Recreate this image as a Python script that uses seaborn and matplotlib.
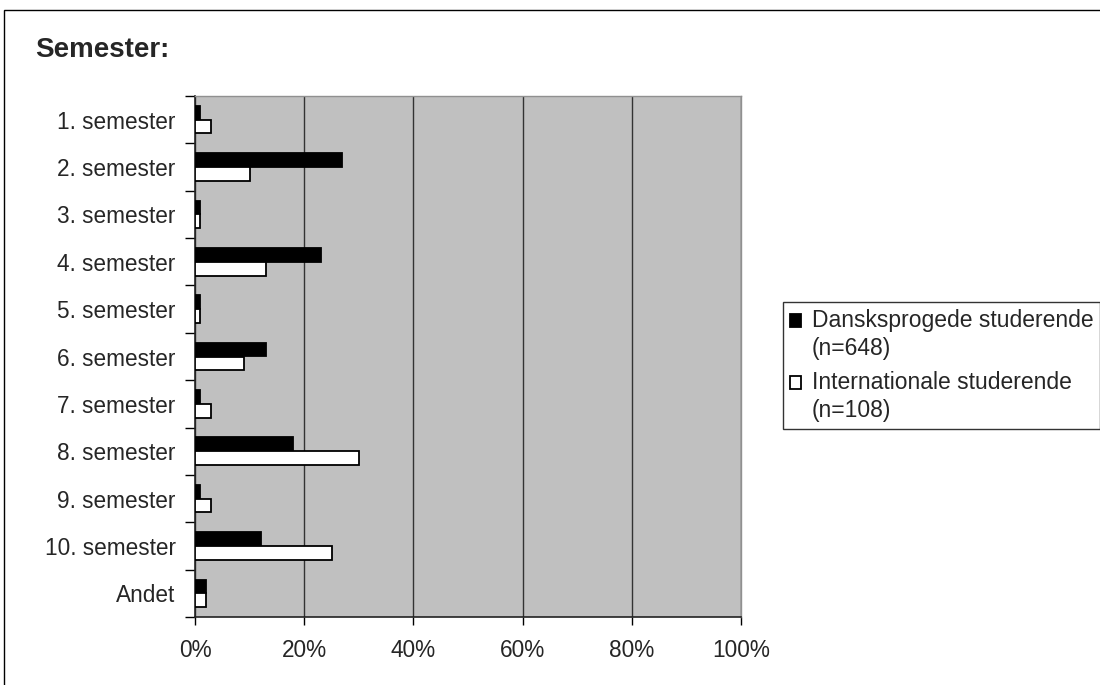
import pandas as pd
import seaborn as sns
import matplotlib.pyplot as plt
from matplotlib.patches import Rectangle
from matplotlib.ticker import FixedLocator
from matplotlib.legend_handler import HandlerPatch

# Data (percent of respondents)
categories = ["1. semester", "2. semester", "3. semester", "4. semester", "5. semester",
              "6. semester", "7. semester", "8. semester", "9. semester", "10. semester", "Andet"]
danish = [1, 27, 1, 23, 1, 13, 1, 18, 1, 12, 2]
international = [3, 10, 1, 13, 1, 9, 3, 30, 3, 25, 2]
series_labels = ["Dansksprogede studerende\n(n=648)", "Internationale studerende\n(n=108)"]
x_ticks = [0, 20, 40, 60, 80, 100]

df = pd.DataFrame({
    "Semester": categories * 2,
    "Andel": danish + international,
    "Gruppe": [series_labels[0]] * len(categories) + [series_labels[1]] * len(categories),
})

sns.set_style("white")
plt.rcParams["font.family"] = ["Liberation Sans", "DejaVu Sans"]

fig = plt.figure(figsize=(11, 6.85), dpi=100)
ax = fig.add_axes([195 / 1100, 1 - 617 / 685, 546 / 1100, 521 / 685])
ax.set_facecolor("#c0c0c0")

sns.barplot(data=df, x="Andel", y="Semester", hue="Gruppe", orient="h",
            palette={series_labels[0]: "black", series_labels[1]: "white"},
            width=0.58, edgecolor="black", linewidth=1.3, ax=ax, zorder=3)

ax.set_xlim(0, 100)
ax.set_ylim(len(categories) - 0.5, -0.5)
ax.set_xticks(x_ticks)
ax.set_xticklabels([f"{t}%" for t in x_ticks], fontsize=16.3)
ax.tick_params(axis="x", bottom=True, direction="out", length=6, width=1, color="black", pad=10)
ax.tick_params(axis="y", which="major", left=True, length=0, pad=14, labelsize=16.3)
ax.yaxis.set_minor_locator(FixedLocator([i - 0.5 for i in range(len(categories) + 1)]))
ax.tick_params(axis="y", which="minor", left=True, direction="out", length=7, width=1, color="black")
ax.set_xlabel("")
ax.set_ylabel("")

ax.set_axisbelow(True)
ax.grid(axis="x", color="#333333", linewidth=1)
ax.grid(axis="y", visible=False)
for side in ["left", "bottom"]:
    ax.spines[side].set_color("#222222")
    ax.spines[side].set_linewidth(1.2)
for side in ["top", "right"]:
    ax.spines[side].set_color("#909090")
    ax.spines[side].set_linewidth(1)


def top_square(legend, orig_handle, xdescent, ydescent, width, height, fontsize):
    # square next to the first line of a two-line label
    return Rectangle((-xdescent, -ydescent + 0.65 * fontsize), width, height)


handles, labels = ax.get_legend_handles_labels()
ax.get_legend().remove()
leg = fig.legend(handles, labels, loc="upper left", bbox_to_anchor=(783 / 1100, 1 - 302 / 685),
                 fontsize=16.5, frameon=True, fancybox=False, edgecolor="black",
                 handlelength=0.5, handleheight=0.5, handletextpad=0.45,
                 labelspacing=0.5, borderpad=0.3, borderaxespad=0,
                 handler_map={h: HandlerPatch(patch_func=top_square) for h in handles})
leg.get_frame().set_linewidth(1)
for t in leg.get_texts():
    t.set_linespacing(1.28)

fig.text(35 / 1100, 1 - 50 / 685, "Semester:", fontsize=20, fontweight="bold",
         ha="left", va="center")

fig.patches.append(Rectangle((4 / 1100, -0.2), 1.5, 1.2 - 10 / 685, transform=fig.transFigure,
                             fill=False, edgecolor="black", linewidth=1))

fig.savefig("out.png", dpi=100)
